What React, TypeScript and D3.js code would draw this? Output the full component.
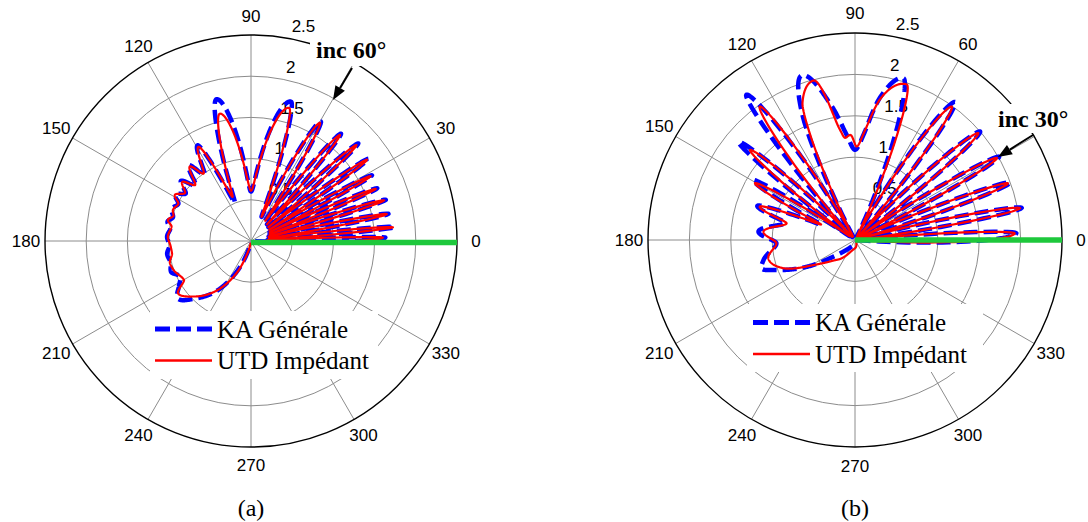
import React from "react";
import * as d3 from "d3";

// ---------- data ----------
const ANGLE_TICKS = [0, 30, 60, 90, 120, 150, 180, 210, 240, 270, 300, 330];
const SPOKE_ANGLES = [0, 30, 60, 90, 120, 150];
const RADIAL_TICKS = [0.5, 1, 1.5, 2, 2.5];
const R_MAX = 2.5;
const LEGEND_LABELS = ["KA Générale", "UTD Impédant"];
const PANEL_LABELS = ["(a)", "(b)"];
const INC_LABELS = ["inc 60°", "inc 30°"];
const INC_ANGLES = [60, 30];

// (a) incidence 60° : [angle deg, radius]
const aKA: [number, number][] = [
  [-2, 0.05], [1.5, 1.63], [3.5, 0.2], [5.5, 1.75], [8.3, 0.22], [11.2, 1.7], [14.1, 0.22],
  [17, 1.71], [19.9, 0.24], [22.7, 1.66], [25.6, 0.25], [28.5, 1.67], [31.8, 0.26], [35, 1.74],
  [38.6, 0.27], [42.3, 1.76], [46.2, 0.28], [50, 1.7], [54.8, 0.3], [59.7, 1.68], [66.5, 0.32],
  [74, 1.76], [90, 0.6], [103.7, 1.77], [113, 0.5], [119.2, 1.33], [125.2, 0.98], [129.4, 1.19],
  [135, 0.95], [139.4, 1.12], [144, 0.98], [148.5, 1.08], [153, 0.99], [158, 1.04], [163, 0.99],
  [167, 1.04], [171, 0.99], [177, 1.02], [183, 0.99], [189, 1.03], [195, 1.01], [201, 1.04],
  [206.5, 0.96], [212, 1.03], [218, 1.13], [226, 0.97], [236, 0.72], [246, 0.38], [254, 0.12],
  [262, 0.02],
];
const aUTD: [number, number][] = [
  [-2, 0.05], [1.5, 1.6], [3.5, 0.2], [5.5, 1.73], [8.3, 0.22], [11.2, 1.68], [14.1, 0.22],
  [17, 1.69], [19.9, 0.24], [22.7, 1.64], [25.6, 0.25], [28.5, 1.65], [31.8, 0.26], [35, 1.72],
  [38.6, 0.27], [42.3, 1.73], [46.2, 0.28], [50, 1.68], [54.8, 0.3], [59.7, 1.66], [66.5, 0.32],
  [74, 1.68], [90, 0.61], [103.8, 1.59], [112.8, 0.58], [119.2, 1.31], [125.2, 1.0], [129.4, 1.17],
  [135, 0.96], [139.4, 1.1], [144, 0.99], [148.8, 1.08], [153, 0.99], [158.2, 1.02], [162, 0.99],
  [165.7, 1.04], [169.8, 0.98], [177, 1.01], [183, 0.98], [188.8, 0.97], [195.4, 1.02], [201, 1.0],
  [210, 0.94], [215.7, 1.09], [224, 0.97], [235, 0.74], [246, 0.42], [254, 0.15], [262, 0.02],
];

// (b) incidence 30°
const bKA: [number, number][] = [
  [-4, 0.02], [2.4, 1.95], [6.5, 0.04], [10.9, 2.05], [15.6, 0.04], [20.3, 2.0], [25.1, 0.04],
  [30, 2.01], [35.4, 0.04], [40.9, 2.0], [47.4, 0.04], [54, 2.06], [62.5, 0.05], [73.4, 2.04],
  [80, 1.75], [85, 1.3], [90, 1.09], [95, 1.3], [100, 1.65], [107.9, 2.09], [113, 1.6],
  [118.5, 0.05], [126.8, 2.19], [133.5, 0.05], [139.9, 1.84], [145, 0.08], [149.5, 1.43],
  [155.5, 0.45], [160.7, 1.25], [166.3, 0.87], [175, 1.17], [182.4, 0.95], [192.3, 1.13],
  [196.9, 1.18], [201, 1.01], [209, 0.67], [217.6, 0.33], [235, 0.12], [260, 0.05], [290, 0.02],
];
const bUTD: [number, number][] = [
  [-4, 0.02], [2.4, 1.93], [6.5, 0.04], [10.9, 2.03], [15.6, 0.04], [20.3, 1.97], [25.1, 0.04],
  [30, 1.98], [35.4, 0.04], [40.9, 1.97], [47.4, 0.04], [54, 1.99], [62.5, 0.05], [71.6, 1.98],
  [80, 1.72], [84.5, 1.35], [89, 1.13], [92.5, 1.27], [95.5, 1.24], [98, 1.36], [104.5, 1.99],
  [111, 1.77], [118.5, 0.05], [125.5, 1.98], [133, 0.05], [139.4, 1.67], [145, 0.08],
  [150.4, 1.39], [155.5, 0.45], [160.7, 1.22], [166.3, 0.85], [174.8, 1.11], [182.4, 0.95],
  [192, 1.07], [201.5, 0.93], [211, 0.59], [222, 0.38], [232, 0.29], [250, 0.15], [280, 0.08],
  [300, 0.02],
];

// ---------- helpers ----------
const SANS = "'Liberation Sans', Arial, sans-serif";
const SERIF = "'Liberation Serif', 'Times New Roman', serif";

function polarPath(
  data: [number, number][],
  cx: number,
  cy: number,
  rs: d3.ScaleLinear<number, number>
): string {
  const out = d3.path();
  let px = 0;
  let py = 0;
  const toXY = (t: number, r: number) => {
    const a = (t * Math.PI) / 180;
    const rr = rs(Math.max(0, r));
    return [cx + rr * Math.cos(a), cy - rr * Math.sin(a)];
  };
  const ctx: any = {
    moveTo(x: number, y: number) {
      const [X, Y] = toXY(x, y);
      out.moveTo(X, Y);
      px = x;
      py = y;
    },
    lineTo(x: number, y: number) {
      const n = Math.max(2, Math.ceil(Math.abs(x - px) / 0.4));
      for (let i = 1; i <= n; i++) {
        const t = i / n;
        const [X, Y] = toXY(px + (x - px) * t, py + (y - py) * t);
        out.lineTo(X, Y);
      }
      px = x;
      py = y;
    },
    bezierCurveTo(x1: number, y1: number, x2: number, y2: number, x: number, y: number) {
      const n = Math.max(6, Math.ceil(Math.abs(x - px) / 0.2));
      for (let i = 1; i <= n; i++) {
        const t = i / n;
        const m = 1 - t;
        const bx = m * m * m * px + 3 * m * m * t * x1 + 3 * m * t * t * x2 + t * t * t * x;
        const by = m * m * m * py + 3 * m * m * t * y1 + 3 * m * t * t * y2 + t * t * t * y;
        const [X, Y] = toXY(bx, by);
        out.lineTo(X, Y);
      }
      px = x;
      py = y;
    },
    closePath() {
      out.closePath();
    },
  };
  d3.line<[number, number]>()
    .x((d) => d[0])
    .y((d) => d[1])
    .curve(d3.curveMonotoneX)
    .context(ctx)(data);
  return out.toString();
}

type PlotProps = {
  cx: number;
  cy: number;
  R: number;
  ka: [number, number][];
  utd: [number, number][];
  inc: string;
  hiddenTick: number;
  box: { x: number; y: number; w: number; h: number; tx: number; ty: number };
  arrow: { x1: number; y1: number; x2: number; y2: number };
  legend: { x: number; y: number; bx: number; by: number; bw: number; bh: number };
  panel: string;
  greenDy: number;
};

function Plot(p: PlotProps) {
  const { cx, cy, R } = p;
  const rs = d3.scaleLinear().domain([0, R_MAX]).range([0, R]);
  const pt = (deg: number, v: number) => {
    const a = (deg * Math.PI) / 180;
    return [cx + rs(v) * Math.cos(a), cy - rs(v) * Math.sin(a)];
  };
  const grid = "#8c8c8c";
  const a82 = (82 * Math.PI) / 180;

  // arrow head
  const { x1, y1, x2, y2 } = p.arrow;
  const ang = Math.atan2(y2 - y1, x2 - x1);
  const hl = 14;
  const hw = 5.5;
  const bxh = x2 - hl * Math.cos(ang);
  const byh = y2 - hl * Math.sin(ang);
  const head = `M${x2},${y2}L${bxh + hw * Math.sin(ang)},${byh - hw * Math.cos(ang)}L${bxh - hw * Math.sin(ang)},${byh + hw * Math.cos(ang)}Z`;

  const lg = p.legend;
  return (
    <g>
      {/* rings */}
      {RADIAL_TICKS.slice(0, -1).map((v) => (
        <circle key={v} cx={cx} cy={cy} r={rs(v)} fill="none" stroke={grid} strokeWidth={1} />
      ))}
      {/* spokes */}
      {SPOKE_ANGLES.map((a) => {
        const [xa, ya] = pt(a, R_MAX);
        const [xb, yb] = pt(a + 180, R_MAX);
        return <line key={a} x1={xa} y1={ya} x2={xb} y2={yb} stroke={grid} strokeWidth={1} />;
      })}
      <circle cx={cx} cy={cy} r={rs(R_MAX)} fill="none" stroke="#000" strokeWidth={1.4} />
      {/* radial labels */}
      {RADIAL_TICKS.map((v) => (
        <text
          key={v}
          x={cx + rs(v) * Math.cos(a82) + 12}
          y={cy - rs(v) * Math.sin(a82) - 5}
          fontFamily={SANS}
          fontSize={17}
          fill="#000"
        >
          {String(v)}
        </text>
      ))}
      {/* angle labels (the one under the incidence note is covered in the original) */}
      {ANGLE_TICKS.filter((a) => a !== p.hiddenTick).map((a) => {
        const [x, y] = pt(a, R_MAX * 1.092);
        return (
          <text key={a} x={x} y={y} textAnchor="middle" dominantBaseline="central" fontFamily={SANS} fontSize={17}>
            {String(a)}
          </text>
        );
      })}
      {/* curves */}
      <path d={polarPath(p.ka, cx, cy, rs)} fill="none" stroke="#0000ff" strokeWidth={4.5} strokeDasharray="14 6" strokeLinejoin="round" />
      <path d={polarPath(p.utd, cx, cy, rs)} fill="none" stroke="#ff0000" strokeWidth={2.2} strokeLinejoin="round" />
      {/* incidence line */}
      <line x1={cx} y1={cy + p.greenDy} x2={cx + rs(R_MAX)} y2={cy + p.greenDy} stroke="#1ec83c" strokeWidth={5.5} />
      {/* annotation */}
      <rect x={p.box.x} y={p.box.y} width={p.box.w} height={p.box.h} fill="#fff" />
      <text x={p.box.tx} y={p.box.ty} fontFamily={SERIF} fontWeight="bold" fontSize={24}>
        {p.inc}
      </text>
      <line x1={x1} y1={y1} x2={bxh} y2={byh} stroke="#000" strokeWidth={2} />
      <path d={head} fill="#000" />
      {/* legend */}
      <rect x={lg.bx} y={lg.by} width={lg.bw} height={lg.bh} fill="#fff" />
      <line x1={lg.x} y1={lg.y} x2={lg.x + 57} y2={lg.y} stroke="#0000ff" strokeWidth={5} strokeDasharray="15 6" />
      <text x={lg.x + 62} y={lg.y + 8.5} fontFamily={SERIF} fontSize={25}>
        {LEGEND_LABELS[0]}
      </text>
      <line x1={lg.x} y1={lg.y + 31.5} x2={lg.x + 57} y2={lg.y + 31.5} stroke="#ff0000" strokeWidth={2.5} />
      <text x={lg.x + 62} y={lg.y + 31.5 + 8.5} fontFamily={SERIF} fontSize={25}>
        {LEGEND_LABELS[1]}
      </text>
      {/* panel label */}
      <text x={cx} y={516} textAnchor="middle" fontFamily={SERIF} fontSize={24}>
        {p.panel}
      </text>
    </g>
  );
}

export default function App() {
  return (
    <svg
      width={1088}
      height={522}
      viewBox="0 0 1088 522"
      style={{ position: "absolute", left: 0, top: 0, background: "#fff" }}
    >
      <rect width={1088} height={522} fill="#fff" />
      <Plot
        cx={251}
        cy={241}
        R={206}
        ka={aKA}
        utd={aUTD}
        inc={INC_LABELS[0]}
        hiddenTick={INC_ANGLES[0]}
        box={{ x: 310, y: 35, w: 88, h: 31, tx: 316, ty: 58 }}
        arrow={{ x1: 352, y1: 68, x2: 333, y2: 100 }}
        legend={{ x: 155, y: 329, bx: 150, by: 311, bw: 228, bh: 68 }}
        panel={PANEL_LABELS[0]}
        greenDy={1.5}
      />
      <Plot
        cx={855}
        cy={240}
        R={207}
        ka={bKA}
        utd={bUTD}
        inc={INC_LABELS[1]}
        hiddenTick={INC_ANGLES[1]}
        box={{ x: 994, y: 104, w: 92, h: 29, tx: 998, ty: 127 }}
        arrow={{ x1: 1033, y1: 135, x2: 998, y2: 157 }}
        legend={{ x: 753, y: 322.5, bx: 747, by: 304, bw: 236, bh: 68 }}
        panel={PANEL_LABELS[1]}
        greenDy={0}
      />
    </svg>
  );
}
